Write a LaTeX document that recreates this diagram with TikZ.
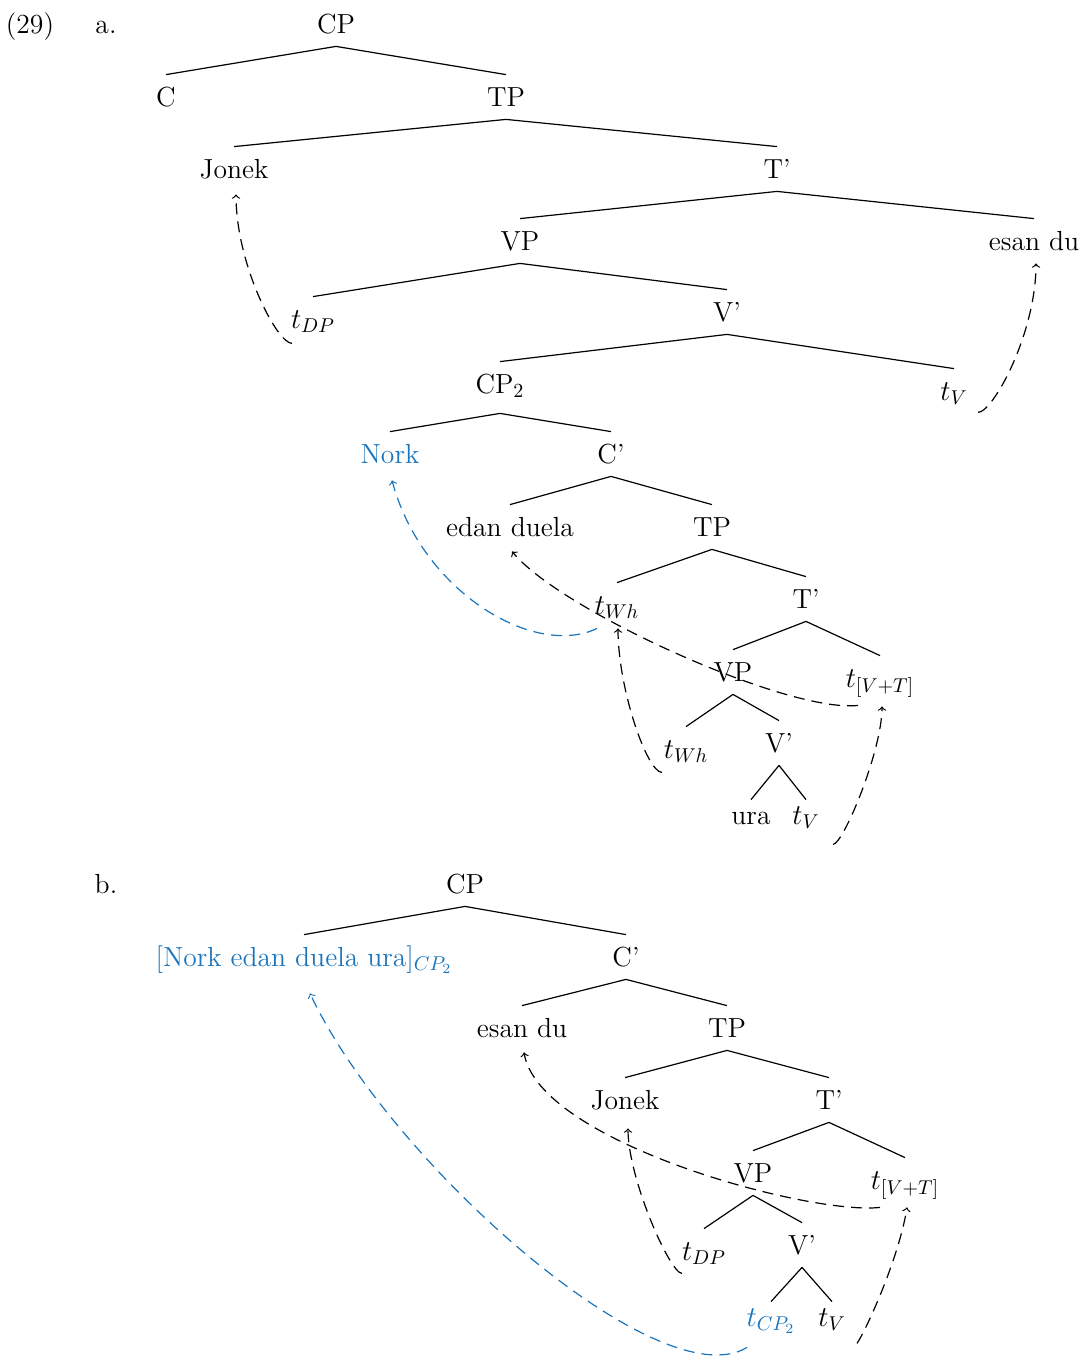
\documentclass[tikz,border=0pt]{standalone}
\usepackage{xcolor}
\definecolor{movblue}{RGB}{27,117,188}

\begin{document}
\begin{tikzpicture}[x=0.5pt,y=-0.5pt,
		every node/.style={font=\fontsize{13.8}{16}\selectfont},
		cat/.style={anchor=base,inner ysep=3pt,text height=12.5pt,text depth=3.5pt},
		leaf/.style={cat,text height=9pt},
		deep/.style={text depth=7pt},
		mv/.style={->,line width=0.6pt,dash pattern=on 5.5pt off 3.5pt},
		mvb/.style={mv,movblue}]
	\useasboundingbox (0,0) rectangle (1087,1365);
	
	\node[anchor=base] (ex) at (30,33) {(29)};
	\node[anchor=base] (la) at (106,33) {a.};
	\node[anchor=base] (lb) at (106,893) {b.};
	
	% tree a
	\node[cat] (cpA) at (336,33) {CP};
	\node[cat] (cA) at (166,106) {C};
	\node[cat] (tpA) at (506,106) {TP};
	\node[cat] (jonekA) at (234,178) {Jonek};
	\node[cat] (tbarA) at (777,178) {T’};
	\node[cat] (vpA) at (520,250) {VP};
	\node[cat] (esanA) at (1034,250) {esan du};
	\node[cat] (tdpA) at (313,328) {$t_{DP}$};
	\node[cat] (vbarA) at (727,321) {V’};
	\node[cat,deep] (cptwoA) at (500,393) {CP$_2$};
	\node[cat] (tvA) at (954,400) {$t_V$};
	\node[cat,movblue] (norkA) at (390,463) {Nork};
	\node[cat] (cbarA) at (611,463) {C’};
	\node[cat] (edanA) at (510,536) {edan duela};
	\node[cat] (tptwoA) at (712,536) {TP};
	\node[cat] (twhA) at (617,614) {$t_{Wh}$};
	\node[cat] (tbartwoA) at (806,608) {T’};
	\node[cat] (vptwoA) at (733,681) {VP};
	\node[cat] (tvtA) at (880,687) {$t_{[V+T]}$};
	\node[cat] (twhlowA) at (686,758) {$t_{Wh}$};
	\node[cat] (vbartwoA) at (779,752) {V’};
	\node[leaf] (uraA) at (751,824) {ura};
	\node[leaf] (tvlowA) at (806,824) {$t_V$};
	
	\foreach \p/\c in {cpA/cA,cpA/tpA,tpA/jonekA,tpA/tbarA,tbarA/vpA,tbarA/esanA,
		vpA/tdpA,vpA/vbarA,vbarA/cptwoA,vbarA/tvA,cptwoA/norkA,cptwoA/cbarA,
		cbarA/edanA,cbarA/tptwoA,tptwoA/twhA,tptwoA/tbartwoA,tbartwoA/vptwoA,
		tbartwoA/tvtA,vptwoA/twhlowA,vptwoA/vbartwoA,vbartwoA/uraA,vbartwoA/tvlowA}{
		\draw[line width=0.6pt] (\p.south) -- (\c.north);}
	
	\draw[mv] ([shift={(-21,2)}]tdpA.south) .. controls +(-15,0) and +(0,70) .. ([shift={(2,3)}]jonekA.south);
	\draw[mv] ([shift={(24,-1)}]tvA.south) .. controls +(15,0) and +(0,70) .. ([shift={(2,0)}]esanA.south);
	\draw[mvb] ([shift={(-20,1)}]twhA.south) .. controls +(-62,30) and +(30,112) .. ([shift={(2,4)}]norkA.south);
	\draw[mv] ([shift={(-22,5)}]tvtA.south) .. controls +(-70,8) and +(48,59) .. ([shift={(2,2)}]edanA.south);
	\draw[mv] ([shift={(-24,1)}]twhlowA.south) .. controls +(-15,0) and +(0,60) .. ([shift={(1,1)}]twhA.south);
	\draw[mv] ([shift={(27,7)}]tvlowA.south) .. controls +(10,0) and +(0,45) .. ([shift={(2,6)}]tvtA.south);
	
	% tree b
	\node[cat] (cpB) at (465,893) {CP};
	\node[cat,movblue] (cptwoB) at (304,966) {[Nork edan duela ura]$_{CP_2}$};
	\node[cat] (cbarB) at (626,966) {C’};
	\node[cat] (esanB) at (522,1037) {esan du};
	\node[cat] (tpB) at (727,1037) {TP};
	\node[cat] (jonekB) at (625,1109) {Jonek};
	\node[cat] (tbarB) at (829,1109) {T’};
	\node[cat] (vpB) at (753,1182) {VP};
	\node[cat] (tvtB) at (905,1189) {$t_{[V+T]}$};
	\node[cat] (tdpB) at (704,1260) {$t_{DP}$};
	\node[cat] (vbarB) at (802,1254) {V’};
	\node[leaf,movblue] (tcpB) at (771,1326) {$t_{CP_2}$};
	\node[leaf] (tvB) at (832,1326) {$t_V$};
	
	\foreach \p/\c in {cpB/cptwoB,cpB/cbarB,cbarB/esanB,cbarB/tpB,tpB/jonekB,tpB/tbarB,
		tbarB/vpB,tbarB/tvtB,vpB/tdpB,vpB/vbarB,vbarB/tcpB,vbarB/tvB}{
		\draw[line width=0.6pt] (\p.south) -- (\c.north);}
	
	\draw[mvb] ([shift={(-24,8)}]tcpB.south) .. controls +(-87,53) and +(80,170) .. ([shift={(6,14)}]cptwoB.south);
	\draw[mv] ([shift={(-25,5)}]tvtB.south) .. controls +(-70,8) and +(15,90) .. ([shift={(2,2)}]esanB.south);
	\draw[mv] ([shift={(-22,0)}]tdpB.south) .. controls +(-12,0) and +(0,50) .. ([shift={(3,6)}]jonekB.south);
	\draw[mv] ([shift={(25,4)}]tvB.south) .. controls +(10,-15) and +(-8,50) .. ([shift={(2,5)}]tvtB.south);
\end{tikzpicture}
\end{document}
